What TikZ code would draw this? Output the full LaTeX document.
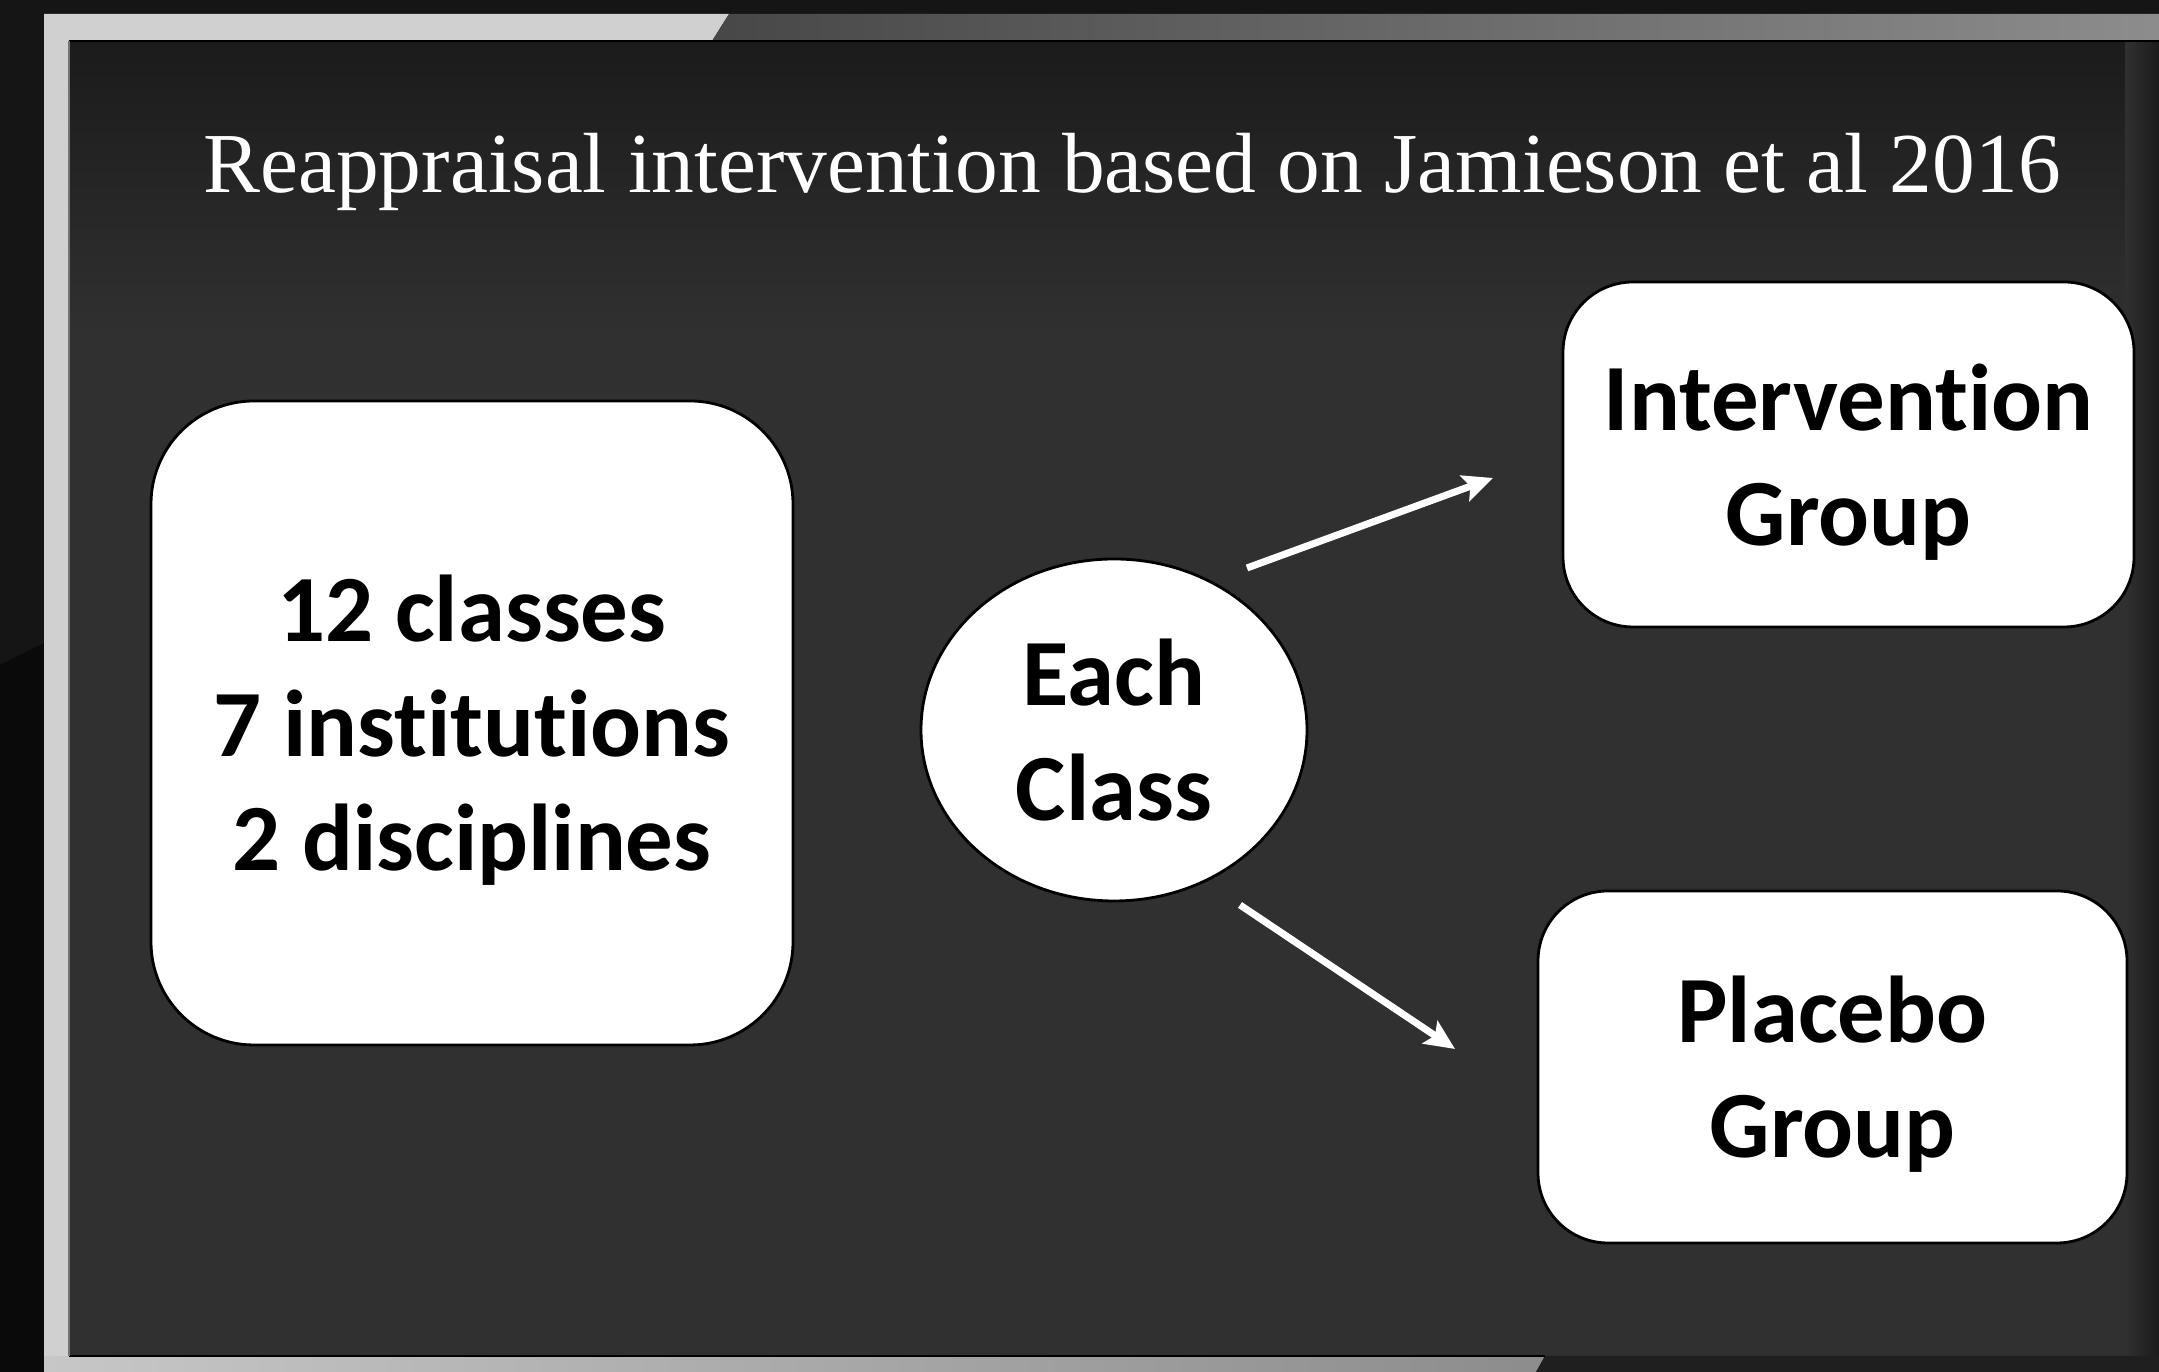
\documentclass[tikz,border=0pt]{standalone}
\usepackage{fontspec}
\setmainfont{Liberation Serif}
\newfontfamily\boxfont[Ligatures=NoCommon]{Carlito}
\usetikzlibrary{arrows.meta,shapes.geometric}

\definecolor{outer}{HTML}{151515}
\definecolor{outerlow}{HTML}{0A0A0A}
\definecolor{framelight}{HTML}{D0D0D0}
\definecolor{panel}{HTML}{303030}
\definecolor{paneltop}{HTML}{1B1B1B}

\begin{document}
\begin{tikzpicture}[
    box/.style={draw=black, line width=0.8pt, fill=white, rounded corners=0.7cm,
        align=center, text=black, inner sep=0pt, text depth=0pt,
        font=\boxfont\bfseries\fontsize{27}{32.6}\selectfont},
    arrow/.style={white, line width=2pt,
        -{Stealth[length=0.3cm, width=0.27cm, inset=0.06cm]}}
]
    \useasboundingbox (0,0) rectangle (21.59,13.72);
    % frame
    \fill[outer] (0,0) rectangle (21.59,13.72);
    \fill[outerlow] (0,0) -- (0,7.07) -- (0.44,7.29) -- (0.44,0) -- cycle;
    \fill[panel] (0.69,0.16) rectangle (21.59,13.31);
    \shade[top color=paneltop, bottom color=panel] (0.69,10.4) rectangle (21.59,13.31);
    \shade[left color=panel, right color=paneltop] (21.25,0.16) rectangle (21.59,13.31);
    \fill[framelight] (0.44,0) rectangle (0.69,13.58);
    \fill[framelight] (0.44,13.58) -- (7.29,13.58) -- (7.12,13.31) -- (0.44,13.31) -- cycle;
    \shade[left color=black!72, right color=black!45] (7.29,13.58) -- (21.59,13.58) -- (21.59,13.31) -- (7.12,13.31) -- cycle;
    \shade[left color=black!22, right color=black!45] (0.44,0) -- (15.36,0) -- (15.45,0.16) -- (0.44,0.16) -- cycle;
    \fill[black!88] (15.36,0) -- (21.59,0) -- (21.59,0.16) -- (15.45,0.16) -- cycle;
    \draw[black, line width=0.8pt] (0.69,13.31) -- (21.59,13.31);
    \draw[black, line width=0.8pt] (0.69,0.16) -- (15.45,0.16);
    \draw[black!55, line width=0.6pt] (0.69,0.16) -- (0.69,13.31);

    \node[white, anchor=base, font=\fontsize{24.3}{29}\selectfont] (title) at (11.32,11.79)
        {Reappraisal intervention based on Jamieson et al 2016};

    \node[box, minimum width=6.42cm, minimum height=6.44cm, rounded corners=1.03cm] (pool) at (4.72,6.49)
        {12 classes\\7 institutions\\2 disciplines};
    \node[box, ellipse, rounded corners=0pt, minimum width=3.86cm, minimum height=3.42cm] (each) at (11.14,6.42)
        {Each\\Class};
    \node[box, minimum width=5.71cm, minimum height=3.45cm] (interv) at (18.485,9.175)
        {Intervention\\Group};
    \node[box, minimum width=5.89cm, minimum height=3.52cm] (placebo) at (18.325,3.05)
        {Placebo\\Group};

    \coordinate (upS) at (12.47,8.04);
    \coordinate (upE) at (14.93,8.94);
    \coordinate (dnS) at (12.40,4.67);
    \coordinate (dnE) at (14.55,3.23);
    \draw[arrow] (upS) -- (upE);
    \draw[arrow] (dnS) -- (dnE);
\end{tikzpicture}
\end{document}
